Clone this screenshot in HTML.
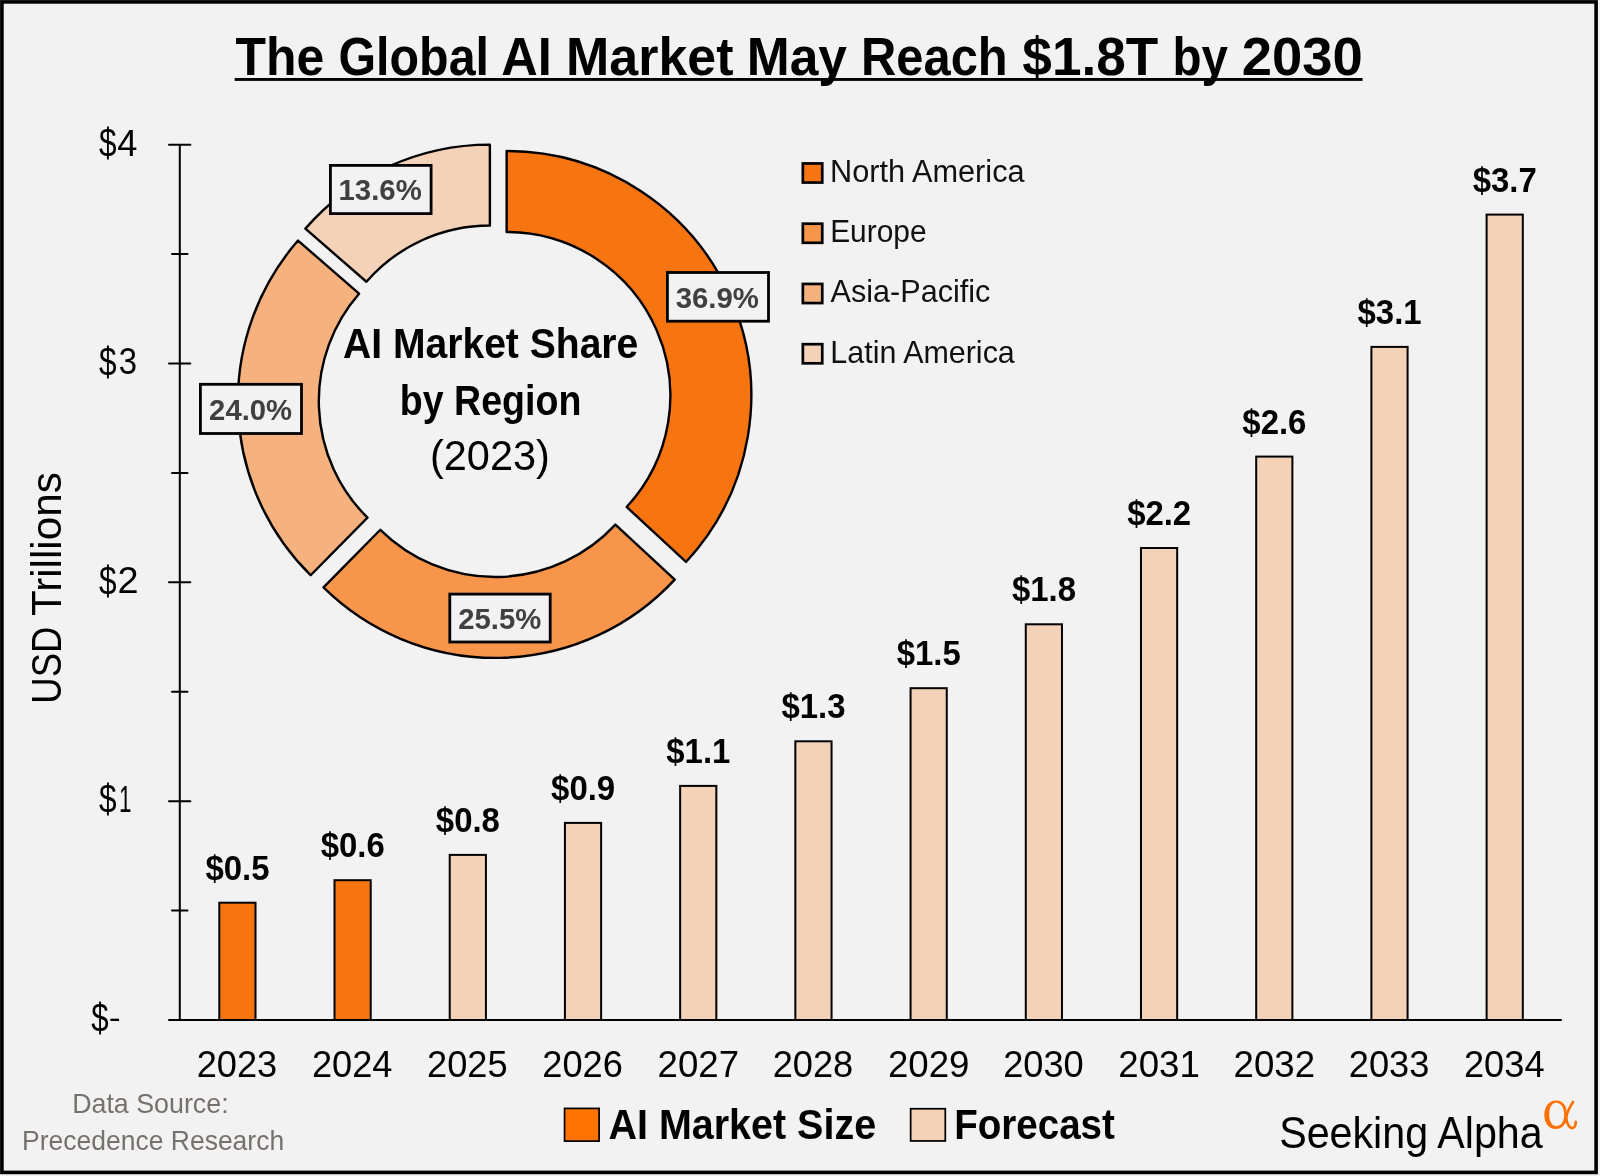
<!DOCTYPE html>
<html><head><meta charset="utf-8"><style>
html,body{margin:0;padding:0;background:#F2F2F2;}
svg{display:block;will-change:transform;font-family:"Liberation Sans",sans-serif;}
</style></head><body>
<svg width="1600" height="1176" viewBox="0 0 1600 1176">
<rect x="0" y="0" width="1600" height="1176" fill="#F2F2F2"/>
<rect x="1.9" y="1.9" width="1594.2" height="1170.5" fill="none" stroke="#000" stroke-width="3.6"/>
<rect x="234.7" y="78" width="1127.8" height="2.9" fill="#000"/>
<path d="M506.65,151.06 A244.6,244.6 0 0 1 686.00,561.98 L626.68,506.97 A163.7,163.7 0 0 0 506.65,231.96 Z" fill="#F77511" stroke="#000" stroke-width="2.4" stroke-linejoin="round"/>
<path d="M674.73,579.61 A244.6,244.6 0 0 1 323.51,587.34 L380.35,529.78 A163.7,163.7 0 0 0 615.41,524.61 Z" fill="#F7964A" stroke="#000" stroke-width="2.4" stroke-linejoin="round"/>
<path d="M310.64,575.22 A244.6,244.6 0 0 1 298.02,240.57 L359.04,293.69 A163.7,163.7 0 0 0 367.49,517.65 Z" fill="#F5B27F" stroke="#000" stroke-width="2.4" stroke-linejoin="round"/>
<path d="M305.39,228.63 A244.6,244.6 0 0 1 489.88,144.63 L489.88,225.53 A163.7,163.7 0 0 0 366.41,281.75 Z" fill="#F4D2B8" stroke="#000" stroke-width="2.4" stroke-linejoin="round"/>
<rect x="330.4" y="165.4" width="100.7" height="48.2" fill="#F2F2F2" stroke="#000" stroke-width="2.8"/>
<rect x="667.4" y="272.5" width="101.1" height="48.7" fill="#F2F2F2" stroke="#000" stroke-width="2.8"/>
<rect x="200.4" y="384.3" width="101.1" height="49.2" fill="#F2F2F2" stroke="#000" stroke-width="2.8"/>
<rect x="449.8" y="594.1" width="100.4" height="47.9" fill="#F2F2F2" stroke="#000" stroke-width="2.8"/>
<rect x="802.85" y="163.45" width="19.4" height="19.1" fill="#F77511" stroke="#000" stroke-width="2.7"/>
<rect x="802.85" y="223.70" width="19.4" height="19.1" fill="#F7964A" stroke="#000" stroke-width="2.7"/>
<rect x="802.85" y="283.95" width="19.4" height="19.1" fill="#F5B27F" stroke="#000" stroke-width="2.7"/>
<rect x="802.85" y="344.20" width="19.4" height="19.1" fill="#F4D2B8" stroke="#000" stroke-width="2.7"/>
<rect x="219.30" y="902.70" width="36.20" height="117.30" fill="#F77511" stroke="#000" stroke-width="2"/>
<rect x="334.51" y="880.20" width="36.20" height="139.80" fill="#F77511" stroke="#000" stroke-width="2"/>
<rect x="449.72" y="854.90" width="36.20" height="165.10" fill="#F4D2B8" stroke="#000" stroke-width="2"/>
<rect x="564.93" y="822.90" width="36.20" height="197.10" fill="#F4D2B8" stroke="#000" stroke-width="2"/>
<rect x="680.14" y="785.90" width="36.20" height="234.10" fill="#F4D2B8" stroke="#000" stroke-width="2"/>
<rect x="795.35" y="741.30" width="36.20" height="278.70" fill="#F4D2B8" stroke="#000" stroke-width="2"/>
<rect x="910.56" y="688.20" width="36.20" height="331.80" fill="#F4D2B8" stroke="#000" stroke-width="2"/>
<rect x="1025.77" y="624.30" width="36.20" height="395.70" fill="#F4D2B8" stroke="#000" stroke-width="2"/>
<rect x="1140.98" y="548.00" width="36.20" height="472.00" fill="#F4D2B8" stroke="#000" stroke-width="2"/>
<rect x="1256.19" y="456.60" width="36.20" height="563.40" fill="#F4D2B8" stroke="#000" stroke-width="2"/>
<rect x="1371.40" y="346.90" width="36.20" height="673.10" fill="#F4D2B8" stroke="#000" stroke-width="2"/>
<rect x="1486.61" y="214.60" width="36.20" height="805.40" fill="#F4D2B8" stroke="#000" stroke-width="2"/>
<line x1="179.8" y1="144.67" x2="179.8" y2="1020" stroke="#000" stroke-width="2"/>
<line x1="169" y1="1020" x2="1561" y2="1020" stroke="#000" stroke-width="2" stroke-linecap="round"/>
<line x1="169" y1="144.67" x2="190.3" y2="144.67" stroke="#000" stroke-width="2" stroke-linecap="round"/>
<line x1="172" y1="254.09" x2="187.5" y2="254.09" stroke="#000" stroke-width="2" stroke-linecap="round"/>
<line x1="169" y1="363.51" x2="190.3" y2="363.51" stroke="#000" stroke-width="2" stroke-linecap="round"/>
<line x1="172" y1="472.93" x2="187.5" y2="472.93" stroke="#000" stroke-width="2" stroke-linecap="round"/>
<line x1="169" y1="582.35" x2="190.3" y2="582.35" stroke="#000" stroke-width="2" stroke-linecap="round"/>
<line x1="172" y1="691.77" x2="187.5" y2="691.77" stroke="#000" stroke-width="2" stroke-linecap="round"/>
<line x1="169" y1="801.19" x2="190.3" y2="801.19" stroke="#000" stroke-width="2" stroke-linecap="round"/>
<line x1="172" y1="910.61" x2="187.5" y2="910.61" stroke="#000" stroke-width="2" stroke-linecap="round"/>
<text transform="translate(60.9,703.63) rotate(-90) scale(0.8759,1)" font-size="41.7" fill="#000">USD</text>
<text transform="translate(60.9,616.01) rotate(-90) scale(1.0121,1)" font-size="41.7" fill="#000">Trillions</text>
<rect x="564.55" y="1108.4" width="34.55" height="32.7" fill="#FF7300" stroke="#000" stroke-width="1.7"/>
<rect x="910.65" y="1108.75" width="34.65" height="32.2" fill="#F4D2B8" stroke="#000" stroke-width="1.75"/>
<path fill-rule="evenodd" fill="#FF7000" d="M1544.3,1114.8 C1544.3,1106.5 1549.3,1100.6 1556.2,1100.6 C1561.5,1100.6 1564.8,1104 1566.3,1108.5 L1566.6,1120.5 C1564.6,1125.8 1560.8,1129 1555.6,1129 C1548.6,1129 1544.3,1123 1544.3,1114.8 Z M1549.2,1114.5 C1549.2,1107.6 1551.8,1102.7 1556.3,1102.7 C1561.2,1102.7 1564.2,1107.8 1564.2,1114.5 C1564.2,1121.4 1561.3,1126 1556.4,1126 C1551.8,1126 1549.2,1121.2 1549.2,1114.5 Z"/><path fill="none" stroke="#FF7000" stroke-width="2.6" stroke-linecap="round" d="M1573,1101.8 C1569.5,1108 1566.3,1113 1566.3,1117.5 C1566.5,1124 1569.5,1128 1572.6,1128 C1574.8,1128 1575.6,1125.5 1575.8,1121.8"/>
<text transform="translate(235.60,75.00) scale(0.9245,1.0000)" font-size="54" font-weight="bold" fill="#000">The</text>
<text transform="translate(338.51,75.00) scale(0.8957,1.0000)" font-size="54" font-weight="bold" fill="#000">Global</text>
<text transform="translate(501.36,75.00) scale(0.9360,1.0000)" font-size="54" font-weight="bold" fill="#000">AI</text>
<text transform="translate(566.12,75.00) scale(0.9612,1.0000)" font-size="54" font-weight="bold" fill="#000">Market</text>
<text transform="translate(746.74,75.00) scale(0.9549,1.0000)" font-size="54" font-weight="bold" fill="#000">May</text>
<text transform="translate(860.98,75.00) scale(0.9051,1.0000)" font-size="54" font-weight="bold" fill="#000">Reach</text>
<text transform="translate(1022.32,75.00) scale(0.9847,1.0000)" font-size="54" font-weight="bold" fill="#000">$1.8T</text>
<text transform="translate(1172.46,75.00) scale(0.8800,1.0000)" font-size="54" font-weight="bold" fill="#000">by</text>
<text transform="translate(1241.78,75.00) scale(1.0078,1.0000)" font-size="54" font-weight="bold" fill="#000">2030</text>
<text transform="translate(343.07,358.00) scale(0.9302,1.0000)" font-size="42" font-weight="bold" fill="#000">AI Market Share</text>
<text transform="translate(399.82,414.70) scale(0.8944,1.0000)" font-size="42" font-weight="bold" fill="#000">by Region</text>
<text transform="translate(430.03,470.20) scale(0.9914,1.0000)" font-size="41.8" font-weight="normal" fill="#000">(2023)</text>
<text transform="translate(830.12,182.30) scale(0.9903,1.0000)" font-size="31" font-weight="normal" fill="#111">North America</text>
<text transform="translate(830.17,242.00) scale(0.9639,1.0000)" font-size="31" font-weight="normal" fill="#111">Europe</text>
<text transform="translate(830.50,302.30) scale(0.9876,1.0000)" font-size="31" font-weight="normal" fill="#111">Asia-Pacific</text>
<text transform="translate(830.34,362.80) scale(0.9823,1.0000)" font-size="31" font-weight="normal" fill="#111">Latin America</text>
<text transform="translate(72.13,1112.80) scale(0.9864,1.0000)" font-size="27.2" font-weight="normal" fill="#767171">Data Source:</text>
<text transform="translate(22.05,1149.75) scale(0.9741,1.0000)" font-size="27.2" font-weight="normal" fill="#767171">Precedence Research</text>
<text transform="translate(608.47,1139.30) scale(0.9312,1.0000)" font-size="42.4" font-weight="bold" fill="#000">AI Market Size</text>
<text transform="translate(954.17,1139.30) scale(0.9092,1.0000)" font-size="42.4" font-weight="bold" fill="#000">Forecast</text>
<text transform="translate(1279.17,1147.90) scale(0.9161,1.0000)" font-size="45" font-weight="normal" fill="#000">Seeking Alpha</text>
<text transform="translate(338.53,200.30) scale(0.9854,1.0000)" font-size="29.8" font-weight="bold" fill="#404040">13.6%</text>
<text transform="translate(675.71,307.70) scale(0.9855,1.0000)" font-size="29.8" font-weight="bold" fill="#404040">36.9%</text>
<text transform="translate(209.12,419.90) scale(0.9819,1.0000)" font-size="29.8" font-weight="bold" fill="#404040">24.0%</text>
<text transform="translate(458.22,629.00) scale(0.9831,1.0000)" font-size="29.8" font-weight="bold" fill="#404040">25.5%</text>
<text transform="translate(98.95,156.94) scale(0.8526,1.1133)" font-size="37" font-weight="normal" fill="#000">$</text>
<text transform="translate(117.32,155.52) scale(0.9789,1.0000)" font-size="37" font-weight="normal" fill="#000">4</text>
<text transform="translate(98.95,375.78) scale(0.8526,1.1133)" font-size="37" font-weight="normal" fill="#000">$</text>
<text transform="translate(118.81,374.36) scale(0.8889,1.0000)" font-size="37" font-weight="normal" fill="#000">3</text>
<text transform="translate(98.95,594.62) scale(0.8526,1.1133)" font-size="37" font-weight="normal" fill="#000">$</text>
<text transform="translate(117.45,593.20) scale(1.0235,1.0000)" font-size="37" font-weight="normal" fill="#000">2</text>
<text transform="translate(98.95,813.46) scale(0.8526,1.1133)" font-size="37" font-weight="normal" fill="#000">$</text>
<text transform="translate(118.98,812.04) scale(0.6063,1.0000)" font-size="37" font-weight="normal" fill="#000">1</text>
<text transform="translate(91.16,1032.27) scale(0.8421,1.1133)" font-size="37" font-weight="normal" fill="#000">$</text>
<text transform="translate(108.67,1027.70) scale(0.9667,0.8000)" font-size="37" font-weight="normal" fill="#000">-</text>
<text transform="translate(196.68,1077.40) scale(0.9580,1.0000)" font-size="37.8" font-weight="normal" fill="#000">2023</text>
<text transform="translate(205.45,879.80) scale(0.9538,1.0000)" font-size="34.5" font-weight="bold" fill="#000">$0.5</text>
<text transform="translate(311.89,1077.40) scale(0.9580,1.0000)" font-size="37.8" font-weight="normal" fill="#000">2024</text>
<text transform="translate(320.66,857.30) scale(0.9538,1.0000)" font-size="34.5" font-weight="bold" fill="#000">$0.6</text>
<text transform="translate(427.10,1077.40) scale(0.9580,1.0000)" font-size="37.8" font-weight="normal" fill="#000">2025</text>
<text transform="translate(435.87,832.00) scale(0.9538,1.0000)" font-size="34.5" font-weight="bold" fill="#000">$0.8</text>
<text transform="translate(542.31,1077.40) scale(0.9580,1.0000)" font-size="37.8" font-weight="normal" fill="#000">2026</text>
<text transform="translate(551.08,800.00) scale(0.9538,1.0000)" font-size="34.5" font-weight="bold" fill="#000">$0.9</text>
<text transform="translate(657.50,1077.40) scale(0.9700,1.0000)" font-size="37.8" font-weight="normal" fill="#000">2027</text>
<text transform="translate(666.29,763.00) scale(0.9538,1.0000)" font-size="34.5" font-weight="bold" fill="#000">$1.1</text>
<text transform="translate(772.73,1077.40) scale(0.9580,1.0000)" font-size="37.8" font-weight="normal" fill="#000">2028</text>
<text transform="translate(781.50,718.40) scale(0.9538,1.0000)" font-size="34.5" font-weight="bold" fill="#000">$1.3</text>
<text transform="translate(887.92,1077.40) scale(0.9700,1.0000)" font-size="37.8" font-weight="normal" fill="#000">2029</text>
<text transform="translate(896.71,665.30) scale(0.9538,1.0000)" font-size="34.5" font-weight="bold" fill="#000">$1.5</text>
<text transform="translate(1003.15,1077.40) scale(0.9580,1.0000)" font-size="37.8" font-weight="normal" fill="#000">2030</text>
<text transform="translate(1011.92,601.40) scale(0.9538,1.0000)" font-size="34.5" font-weight="bold" fill="#000">$1.8</text>
<text transform="translate(1118.34,1077.40) scale(0.9700,1.0000)" font-size="37.8" font-weight="normal" fill="#000">2031</text>
<text transform="translate(1127.13,525.10) scale(0.9538,1.0000)" font-size="34.5" font-weight="bold" fill="#000">$2.2</text>
<text transform="translate(1233.55,1077.40) scale(0.9700,1.0000)" font-size="37.8" font-weight="normal" fill="#000">2032</text>
<text transform="translate(1242.34,433.70) scale(0.9538,1.0000)" font-size="34.5" font-weight="bold" fill="#000">$2.6</text>
<text transform="translate(1348.78,1077.40) scale(0.9580,1.0000)" font-size="37.8" font-weight="normal" fill="#000">2033</text>
<text transform="translate(1357.55,324.00) scale(0.9538,1.0000)" font-size="34.5" font-weight="bold" fill="#000">$3.1</text>
<text transform="translate(1463.99,1077.40) scale(0.9580,1.0000)" font-size="37.8" font-weight="normal" fill="#000">2034</text>
<text transform="translate(1472.76,191.70) scale(0.9538,1.0000)" font-size="34.5" font-weight="bold" fill="#000">$3.7</text>
</svg>
</body></html>
